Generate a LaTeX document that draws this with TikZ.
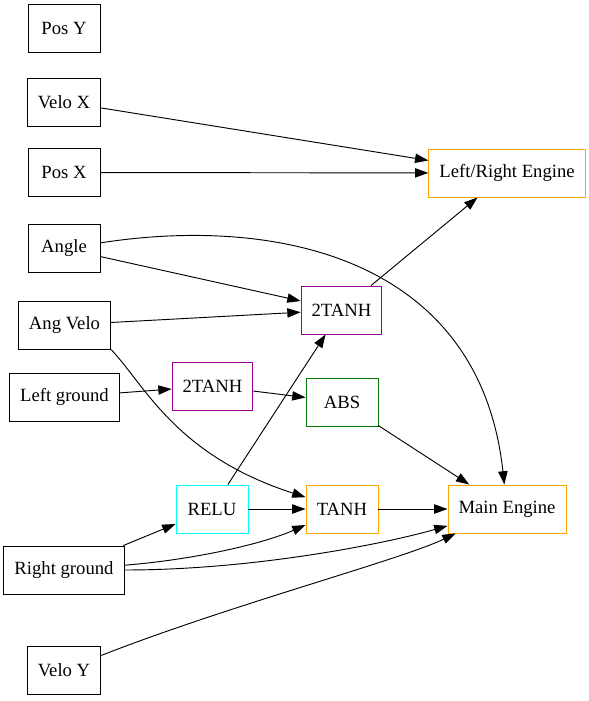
\documentclass[tikz,border=0pt]{standalone}
\usepackage{fontspec}
\setmainfont{Liberation Serif}
\usepackage{xcolor}
\usetikzlibrary{arrows.meta}
\definecolor{Ink}{HTML}{000000}
\definecolor{Purple}{HTML}{990099}
\definecolor{Leaf}{HTML}{007A00}
\definecolor{Amber}{HTML}{FFA500}
\definecolor{Aqua}{HTML}{00FFFF}
\tikzset{
  box/.style={draw=Ink,rectangle,minimum width=54pt,minimum height=36pt,inner xsep=7.9pt,inner ysep=4pt,align=center,font=\fontsize{14}{16}\selectfont,text=Ink,line width=0.7pt},
  arr/.style={-{Triangle[length=10pt,width=7pt]},draw=Ink,line width=0.7pt}
}

\begin{document}
\begin{tikzpicture}[x=0.75pt,y=-0.75pt]
  \useasboundingbox (0,0) rectangle (589,701);
  % inputs
  \node[box] (posy) at (64,28.5) {Pos Y};
  \node[box] (velox) at (64,102) {Velo X};
  \node[box] (posx) at (64,172.5) {Pos X};
  \node[box] (angle) at (64,248.5) {Angle};
  \node[box] (angvelo) at (64.5,325) {Ang Velo};
  \node[box] (leftgr) at (64.5,397) {Left ground};
  \node[box] (rightgr) at (64,570) {Right ground};
  \node[box] (veloy) at (64,670) {Velo Y};
  % hidden units
  \node[box,draw=Purple] (tanhA) at (341.5,310) {2TANH};
  \node[box,draw=Purple] (tanhB) at (212.5,386) {2TANH};
  \node[box,draw=Leaf] (abs) at (342,402) {ABS};
  \node[box,draw=Aqua] (relu) at (212,509) {RELU};
  \node[box,draw=Amber] (tanh) at (342,509) {TANH};
  % outputs
  \node[box,draw=Amber] (lrengine) at (507,173) {Left/Right Engine};
  \node[box,draw=Amber] (mainengine) at (507,509) {Main Engine};
  % connections
  \draw[arr] (velox) -- (lrengine);
  \draw[arr] (posx) -- (lrengine);
  \draw[arr] (angle) -- (tanhA);
  \draw[arr] (angvelo) -- (tanhA);
  \draw[arr] (leftgr) -- (tanhB);
  \draw[arr] (tanhB) -- (abs);
  \draw[arr] (tanhA) -- (lrengine);
  \draw[arr] (abs) -- (mainengine);
  \draw[arr] (relu) -- (tanhA);
  \draw[arr] (relu) -- (tanh);
  \draw[arr] (tanh) -- (mainengine);
  \draw[arr] (rightgr) -- (relu);
  \draw[arr] (angle) .. controls (280,215) and (480,260) .. (mainengine);
  \draw[arr] (angvelo.south east) .. controls (145,385) and (175,455) .. (tanh);
  \draw[arr] (rightgr) .. controls (190,560) and (260,545) .. (tanh);
  \draw[arr] (rightgr) .. controls (250,570) and (380,545) .. (mainengine);
  \draw[arr] (veloy) .. controls (230,605) and (400,560) .. (mainengine);
\end{tikzpicture}
\end{document}
